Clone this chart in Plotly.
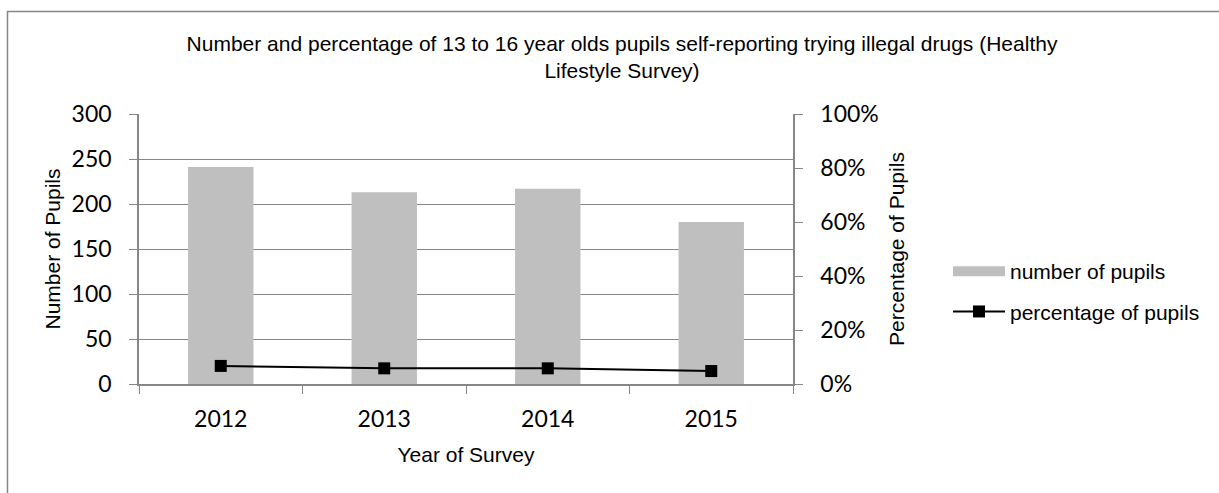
import plotly.graph_objects as go

years = ["2012", "2013", "2014", "2015"]
num_pupils = [241, 213, 217, 180]
pct_pupils = [0.067, 0.058, 0.058, 0.048]

title_text = ("Number and percentage of 13 to 16 year olds pupils self-reporting trying illegal drugs (Healthy"
              "<br>Lifestyle Survey)")

W, H = 1219, 493
L, R, T, B = 139, 793, 114, 384

def px_x(p):
    return (p - L) / (R - L)

def px_y(p):
    return (B - p) / (B - T)

GRID = "#878787"
BAR = "#BFBFBF"
TICKFONT = dict(family="Lato", size=23, color="#000000")
ARIAL = "Liberation Sans, Arial"

fig = go.Figure()
fig.add_trace(go.Bar(
    x=years, y=num_pupils, name="number of pupils",
    marker=dict(color=BAR, line=dict(width=0)),
    yaxis="y", showlegend=False,
))
# legend entry for the bars (wide swatch like the original)
fig.add_trace(go.Scatter(
    x=[None], y=[None], name="number of pupils", mode="lines",
    line=dict(color=BAR, width=11), legendgroup="a", hoverinfo="skip",
))
fig.add_trace(go.Scatter(
    x=years, y=pct_pupils, name="percentage of pupils",
    mode="lines+markers",
    line=dict(color="#000000", width=2),
    marker=dict(symbol="square", size=12, color="#000000"),
    yaxis="y2", legendgroup="b",
))

fig.update_layout(
    width=W, height=H,
    margin=dict(l=L, r=W - R, t=T, b=H - B, pad=0),
    paper_bgcolor="white", plot_bgcolor="white",
    bargap=0.6,
    title=dict(text=title_text, x=622 / W, xanchor="center", y=1 - 51 / H, yanchor="top",
               font=dict(family=ARIAL, size=21, color="#000000")),
    xaxis=dict(
        type="category", tickson="boundaries", ticks="outside", ticklen=8, tickcolor=GRID,
        tickwidth=1.3, showline=True, linecolor=GRID, linewidth=1.5, showgrid=False,
        tickfont=TICKFONT, ticklabelstandoff=14,
        title=dict(text="Year of Survey", font=dict(family=ARIAL, size=21, color="#000000"), standoff=16),
        range=[-0.5, 3.5],
    ),
    yaxis=dict(
        range=[0, 300], dtick=50, ticks="outside", ticklen=8, tickcolor=GRID, tickwidth=1.3,
        showline=True, linecolor=GRID, linewidth=1.5, showgrid=True, gridcolor=GRID, gridwidth=1.3,
        zeroline=False, tickfont=TICKFONT, ticklabelstandoff=13,
        title=dict(text="Number of Pupils", font=dict(family=ARIAL, size=21, color="#000000"), standoff=5),
    ),
    yaxis2=dict(
        range=[0, 1], dtick=0.2, tickformat=".0%", overlaying="y", side="right",
        ticks="outside", ticklen=8, tickcolor=GRID, tickwidth=1.3,
        showline=True, linecolor=GRID, linewidth=1.5, showgrid=False, zeroline=False,
        tickfont=TICKFONT, ticklabelstandoff=13,
        title=dict(text="Percentage of Pupils", font=dict(family=ARIAL, size=21, color="#000000"), standoff=11),
    ),
    legend=dict(
        x=px_x(948), xanchor="left", y=px_y(251), yanchor="top",
        font=dict(family=ARIAL, size=21, color="#000000"),
        tracegroupgap=10, itemwidth=52, bgcolor="rgba(0,0,0,0)",
    ),
    shapes=[dict(
        type="rect", xref="paper", yref="paper",
        x0=px_x(7.5), x1=px_x(1240), y0=px_y(11.5), y1=px_y(510),
        line=dict(color="#868686", width=1.5), fillcolor="rgba(0,0,0,0)", layer="below",
    )],
)

fig.write_html("out.html")
